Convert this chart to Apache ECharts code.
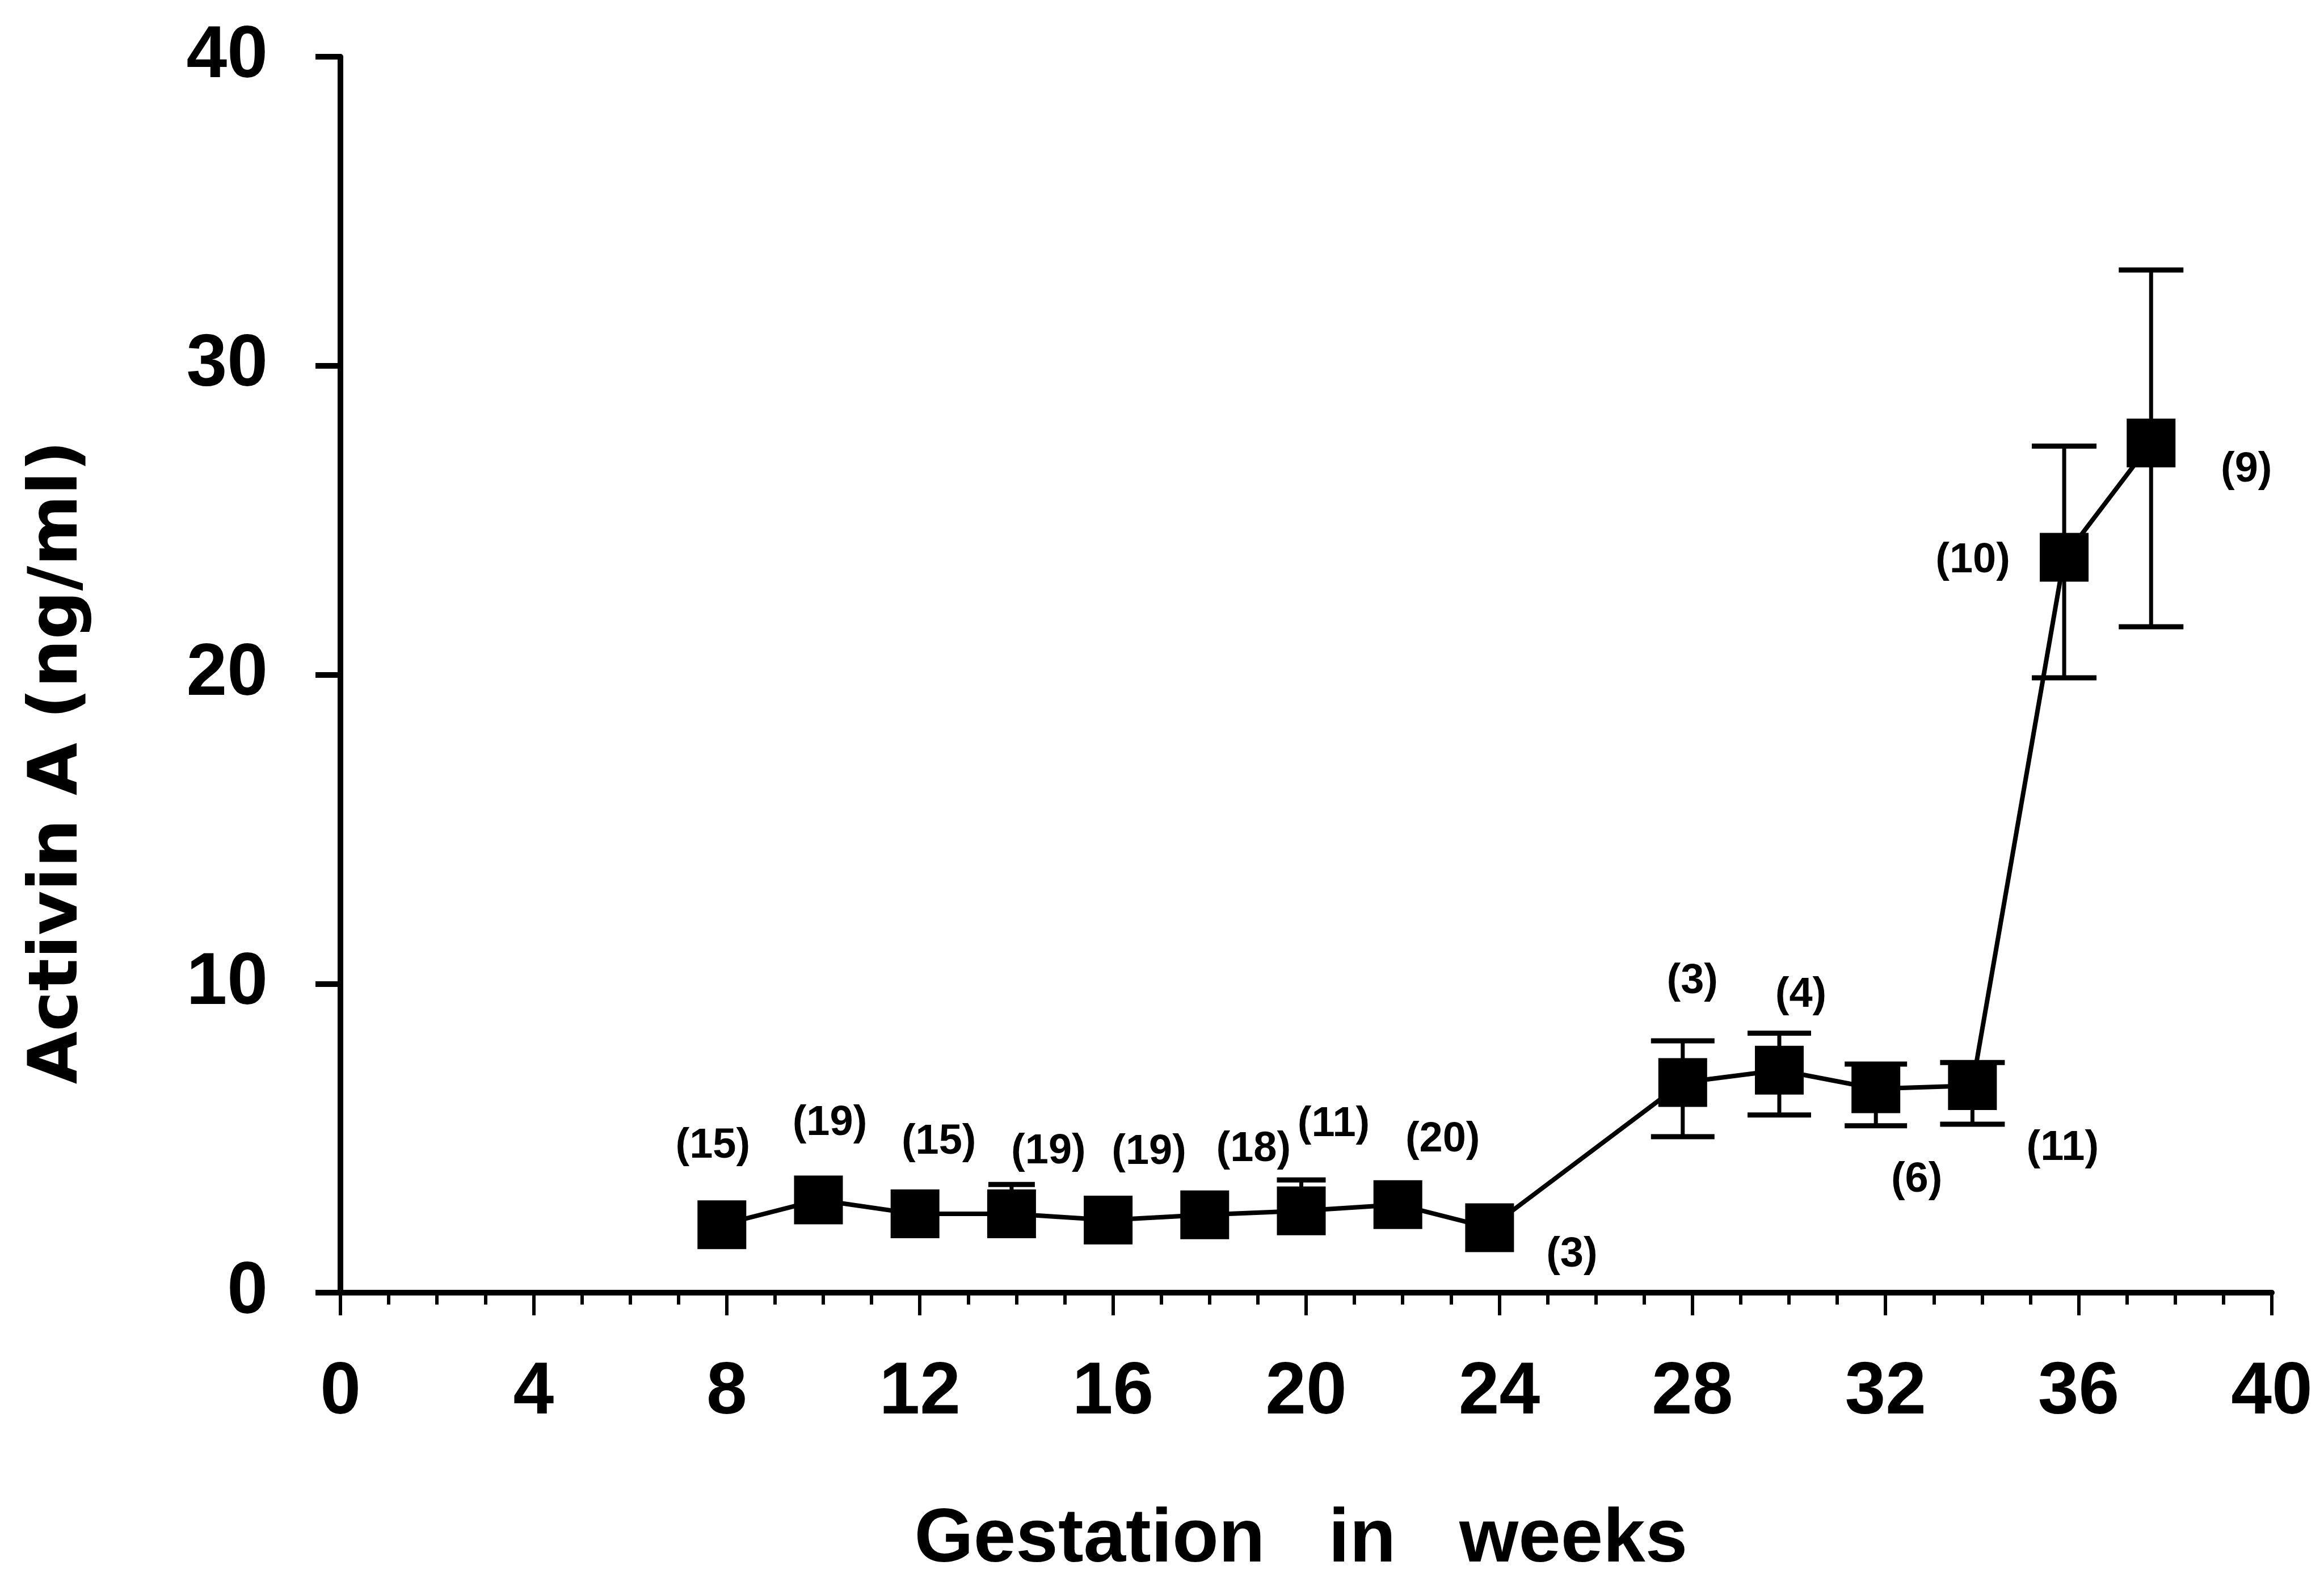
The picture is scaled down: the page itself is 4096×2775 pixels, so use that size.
<!DOCTYPE html>
<html><head><meta charset="utf-8">
<script src="https://cdn.jsdelivr.net/npm/echarts@6/dist/echarts.min.js"></script>
<style>html,body{margin:0;padding:0;background:#fff}#c{width:4096px;height:2775px}</style>
</head><body><div id="c"></div>
<script>
// ---- data ----
const weeks  = [7.9, 9.9, 11.9, 13.9, 15.9, 17.9, 19.9, 21.9, 23.8, 27.8, 29.8, 31.8, 33.8, 35.7, 37.5];
const means  = [2.2, 3.0, 2.55, 2.55, 2.35, 2.52, 2.65, 2.85, 2.1, 6.8, 7.2, 6.6, 6.7, 23.8, 27.5];
const upper  = [null, null, null, 3.5, null, null, 3.65, null, null, 8.15, 8.4, 7.4, 7.45, 27.4, 33.1];
const lower  = [null, null, null, null, null, null, null, null, null, 5.05, 5.75, 5.4, 5.45, 19.9, 21.55];
const nCounts = [15, 19, 15, 19, 19, 18, 11, 20, 3, 3, 4, 6, 11, 10, 9];
const xTicks = [0, 4, 8, 12, 16, 20, 24, 28, 32, 36, 40];
const yTicks = [0, 10, 20, 30, 40];
const xTitle = 'Gestation   in   weeks';
const yTitle = 'Activin A (ng/ml)';

// ---- layout / style (pixels) ----
const labelOffsets = [[-16,-139],[20,-135],[42,-126],[65,-109],[72,-119],[86,-115],[57,-152],[79,-114],
                      [145,48],[17,-178],[38,-132],[72,161],[159,111],[-161,6],[168,48]];
const capPx = [84,84,84,82,84,84,86,84,84,112,112,110,114,114,114];

const chart = echarts.init(document.getElementById('c'));
const tickFont = {fontSize: 129, fontWeight: 'bold', fontFamily: 'Liberation Sans', color: '#000'};
chart.setOption({
  animation: false,
  backgroundColor: '#fff',
  grid: {left: 600, right: 92, top: 100, bottom: 496, containLabel: false},
  xAxis: {
    type: 'value', min: 0, max: 40, interval: 4,
    axisLine: {show: true, onZero: false, lineStyle: {color: '#000', width: 10}},
    axisTick: {show: true, length: 40, lineStyle: {color: '#000', width: 6}},
    minorTick: {show: true, splitNumber: 4, length: 21, lineStyle: {color: '#000', width: 6}},
    splitLine: {show: false}, minorSplitLine: {show: false},
    axisLabel: Object.assign({margin: 113, formatter: v => xTicks.includes(v) ? String(v) : ''}, tickFont)
  },
  yAxis: {
    type: 'value', min: 0, max: 40, interval: 10,
    axisLine: {show: true, onZero: false, lineStyle: {color: '#000', width: 10}},
    axisTick: {show: true, length: 44, lineStyle: {color: '#000', width: 10}},
    splitLine: {show: false},
    axisLabel: Object.assign({margin: 128, padding: [0, 0, 28, 0], formatter: v => yTicks.includes(v) ? String(v) : ''}, tickFont)
  },
  graphic: [
    {type: 'text', x: 104, y: 1344, rotation: Math.PI / 2,
     style: {text: yTitle, fontSize: 120, fontWeight: 'bold', fontFamily: 'DejaVu Sans', fill: '#000', align: 'center', verticalAlign: 'middle'}},
    {type: 'text', x: 2293, y: 2716,
     style: {text: xTitle, fontSize: 134, fontWeight: 'bold', fontFamily: 'Liberation Sans', fill: '#000', align: 'center', verticalAlign: 'middle'}}
  ],
  series: [
    {
      type: 'custom', z: 2,
      data: weeks.map((w, i) => [w, means[i], i]),
      encode: {x: 0, y: 1},
      renderItem: function (params, api) {
        const i = api.value(2), w = api.value(0);
        const c = api.coord([w, means[i]]);
        const hw = capPx[i] / 2;
        const ch = [];
        [upper[i], lower[i]].forEach(v => {
          if (v == null) return;
          const p = api.coord([w, v]);
          ch.push({type: 'line', shape: {x1: c[0], y1: c[1], x2: p[0], y2: p[1]}, style: {stroke: '#000', lineWidth: 7}});
          ch.push({type: 'line', shape: {x1: p[0] - hw, y1: p[1], x2: p[0] + hw, y2: p[1]}, style: {stroke: '#000', lineWidth: 9}});
        });
        return {type: 'group', children: ch};
      }
    },
    {
      type: 'line', z: 3,
      data: weeks.map((w, i) => ({value: [w, means[i]], label: {offset: labelOffsets[i]}})),
      symbol: 'rect', symbolSize: 86,
      itemStyle: {color: '#000'},
      lineStyle: {color: '#000', width: 8},
      label: {show: true, position: 'inside', formatter: p => '(' + nCounts[p.dataIndex] + ')',
              fontSize: 74, fontWeight: 'bold', fontFamily: 'Liberation Sans', color: '#000'}
    }
  ]
});
</script></body></html>
